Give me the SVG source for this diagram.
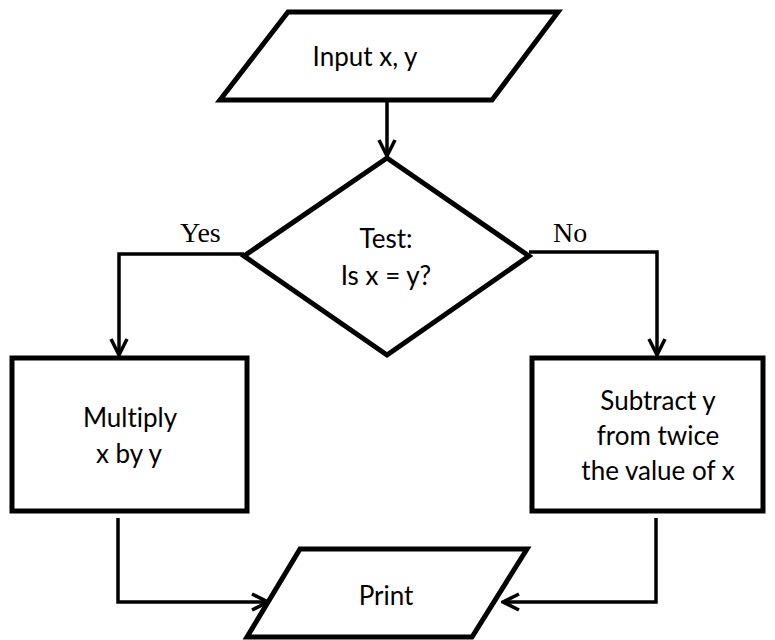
<svg xmlns="http://www.w3.org/2000/svg" width="775" height="640" viewBox="0 0 775 640">
  <style>
    .shape { fill: #fff; stroke: #000; stroke-width: 5; stroke-linejoin: miter; }
    .link { fill: none; stroke: #000; stroke-width: 3.5; }
    .label { font-family: Lato, "Open Sans", "Liberation Sans", sans-serif; font-size: 26px; fill: #000; text-anchor: middle; font-variant-ligatures: none; }
    .branch { font-family: "Liberation Serif", serif; font-size: 28px; fill: #000; }
  </style>
  <defs>
    <marker id="vee" markerUnits="userSpaceOnUse" viewBox="0 0 20 20" refX="18" refY="10" markerWidth="20" markerHeight="20" orient="auto">
      <path d="M2,2 L18,10 L2,18" fill="none" stroke="#000" stroke-width="3.5"/>
    </marker>
  </defs>

  <g id="connectors">
    <path class="link" d="M387,100 V156" marker-end="url(#vee)"/>
    <path class="link" d="M244,254 H119 V355" marker-end="url(#vee)"/>
    <path class="link" d="M529,252 H657 V355" marker-end="url(#vee)"/>
    <path class="link" d="M118,518 V602 H268" marker-end="url(#vee)"/>
    <path class="link" d="M656,518 V602 H503" marker-end="url(#vee)"/>
  </g>

  <g id="input">
    <polygon class="shape" points="288,12 558,12 492,100 220,100"/>
    <text class="label" x="365" y="66">Input x, y</text>
  </g>

  <g id="test">
    <polygon class="shape" points="387,158 529,256 387,355 244,256"/>
    <text class="label" x="386" y="248">Test:</text>
    <text class="label" x="386" y="285">Is x = y?</text>
  </g>

  <g id="yes-label"><text class="branch" x="180" y="242">Yes</text></g>
  <g id="no-label"><text class="branch" x="553" y="242">No</text></g>

  <g id="multiply">
    <rect class="shape" x="12" y="358" width="235" height="153"/>
    <text class="label" x="130" y="427">Multiply</text>
    <text class="label" x="129" y="463">x by y</text>
  </g>

  <g id="subtract">
    <rect class="shape" x="532" y="358" width="231" height="153"/>
    <text class="label" x="658" y="410">Subtract y</text>
    <text class="label" x="658" y="445">from twice</text>
    <text class="label" x="658" y="480">the value of x</text>
  </g>

  <g id="print">
    <polygon class="shape" points="300,549 527,549 472,637 247,637"/>
    <text class="label" x="386" y="605">Print</text>
  </g>
</svg>
